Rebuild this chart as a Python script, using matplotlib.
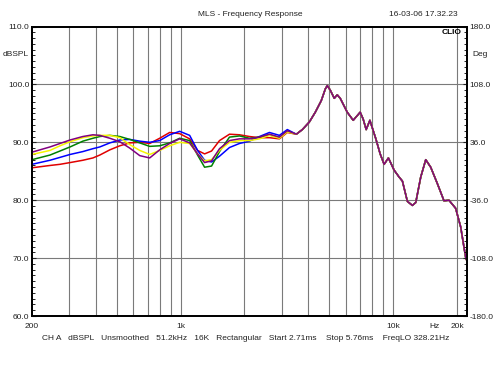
import numpy as np
import matplotlib
matplotlib.use("Agg")
import matplotlib.pyplot as plt
from matplotlib.ticker import FixedLocator, MultipleLocator, NullFormatter

plt.rcParams['font.family'] = ['Liberation Sans', 'DejaVu Sans']

# frequencies (Hz) where the five curves separate
freq_lo = [200, 243, 271, 302, 347, 387, 417, 465, 518, 577, 643, 716, 798, 889,
           991, 1104, 1203, 1298, 1400, 1526, 1700, 1895, 2111, 2353, 2621, 2920, 3182]

red_lo = [85.6, 86.0, 86.2, 86.5, 86.9, 87.3, 87.8, 88.7, 89.4, 89.9, 90.0, 89.8, 90.7, 91.7,
          91.5, 90.6, 88.6, 88.0, 88.5, 90.3, 91.4, 91.3, 91.0, 90.8, 90.8, 90.6, 91.7]
blue_lo = [86.2, 86.9, 87.4, 87.9, 88.4, 88.9, 89.2, 89.9, 90.4, 90.5, 90.2, 90.0, 90.3, 91.3,
           91.9, 91.2, 88.6, 86.9, 86.6, 87.6, 89.1, 89.8, 90.2, 91.0, 91.7, 91.2, 92.2]
green_lo = [87.0, 87.8, 88.5, 89.2, 90.2, 90.7, 91.0, 91.2, 91.0, 90.5, 89.9, 89.3, 89.4, 89.9,
            90.7, 90.3, 87.8, 85.7, 85.9, 88.4, 90.9, 91.1, 90.7, 90.9, 91.3, 90.8, 91.9]
yellow_lo = [87.9, 88.6, 89.4, 90.1, 90.8, 91.1, 91.2, 91.2, 90.8, 89.6, 88.6, 87.9, 88.6, 89.4,
             90.0, 89.8, 88.0, 86.8, 87.0, 88.6, 90.0, 90.3, 90.3, 90.6, 91.2, 90.7, 91.8]
purple_lo = [88.3, 89.2, 89.8, 90.4, 91.0, 91.3, 91.2, 90.7, 90.1, 89.0, 87.7, 87.3, 88.7, 89.8,
             90.6, 89.9, 88.0, 86.5, 86.8, 88.9, 90.3, 90.6, 90.6, 90.9, 91.4, 90.9, 92.0]

# above ~3.5 kHz all five measurements lie on top of each other
freq_hi = [3508, 3744, 4038, 4309, 4597, 4801, 4906, 5068, 5292, 5466, 5646, 6090, 6496,
           7008, 7240, 7478, 7784, 8304, 8702, 9084, 9516, 10120, 10684, 11074, 11688,
           12336, 12798, 13508, 14260, 15048, 16162, 17380, 18340, 19720, 20820, 21580, 22060]
spl_hi = [91.4, 92.2, 93.5, 95.2, 97.2, 99.2, 99.8, 99.0, 97.6, 98.2, 97.6, 95.2, 93.8,
          95.2, 94.0, 92.2, 93.8, 90.6, 88.0, 86.2, 87.3, 85.2, 84.0, 83.3, 79.8,
          79.1, 79.6, 84.0, 87.0, 85.7, 82.9, 79.9, 80.0, 78.6, 75.4, 71.9, 69.8]

curves = [("#e00000", red_lo), ("#0000ff", blue_lo), ("#008000", green_lo),
          ("#f5f500", yellow_lo), ("#800080", purple_lo)]

fig = plt.figure(figsize=(5, 3.75), dpi=100)
ax = fig.add_axes([0.064, 0.1573, 0.87, 0.772])

for color, lo in curves:
    ax.plot(freq_lo + freq_hi, lo + spl_hi, color=color, lw=1.1, zorder=3)

ax.set_xscale("log")
ax.set_xlim(200, 22300)
ax.set_ylim(60, 110)

# grid
grid_f = [300, 400, 500, 600, 700, 800, 900, 1000, 2000, 3000, 4000, 5000, 6000,
          7000, 8000, 9000, 10000, 20000]
for f in grid_f:
    ax.axvline(f, color="#7a7a7a", lw=0.8, zorder=1)
for v in [70, 80, 90, 100]:
    ax.axhline(v, color="#7a7a7a", lw=0.8, zorder=1)

ax.xaxis.set_major_locator(FixedLocator([200, 1000, 10000, 15600, 20000]))
ax.xaxis.set_minor_locator(FixedLocator([]))
ax.set_xticklabels(["200", "1k", "10k", "Hz", "20k"])
ax.xaxis.set_minor_formatter(NullFormatter())
ax.tick_params(axis="x", length=0, labelsize=6, pad=5, colors="#222222")

ax.set_yticks([60, 70, 80, 90, 100, 110])
ax.set_yticklabels(["60.0", "70.0", "80.0", "90.0", "100.0", "110.0"])
ax.yaxis.set_minor_locator(MultipleLocator(1))
ax.tick_params(axis="y", which="major", direction="in", length=3, labelsize=6, pad=2,
               colors="#222222")
ax.tick_params(axis="y", which="minor", direction="in", length=2)

ax2 = ax.twinx()
ax2.set_ylim(-180, 180)
ax2.set_yticks([-180, -108, -36, 36, 108, 180])
ax2.set_yticklabels(["-180.0", "-108.0", "-36.0", "36.0", "108.0", "180.0"])
ax2.yaxis.set_minor_locator(MultipleLocator(7.2))
ax2.tick_params(axis="y", which="major", direction="in", length=3, labelsize=6, pad=2,
                colors="#222222")
ax2.tick_params(axis="y", which="minor", direction="in", length=2)

for a in (ax, ax2):
    for s in a.spines.values():
        s.set_linewidth(1.3)
        s.set_color("black")

fig.text(0.5, 1 - 14 / 375, "MLS - Frequency Response", ha="center", va="center",
         fontsize=6, color="#222222")
fig.text(458 / 500, 1 - 14 / 375, "16-03-06 17.32.23", ha="right", va="center",
         fontsize=6, color="#222222")
fig.text(29 / 500, 1 - 55 / 375, "dBSPL", ha="right", va="center", fontsize=6, color="#222222")
fig.text(472 / 500, 1 - 55 / 375, "Deg", ha="left", va="center", fontsize=6, color="#222222")
fig.text(462 / 500, 1 - 32 / 375, "CLIO", ha="right", va="center", fontsize=6,
         fontweight="bold", color="black")
fig.text(246 / 500, 1 - 339 / 375,
         "CH A   dBSPL   Unsmoothed   51.2kHz   16K   Rectangular   Start 2.71ms    "
         "Stop 5.76ms    FreqLO 328.21Hz",
         ha="center", va="center", fontsize=6, color="#222222")

fig.savefig("out.png", dpi=100)
